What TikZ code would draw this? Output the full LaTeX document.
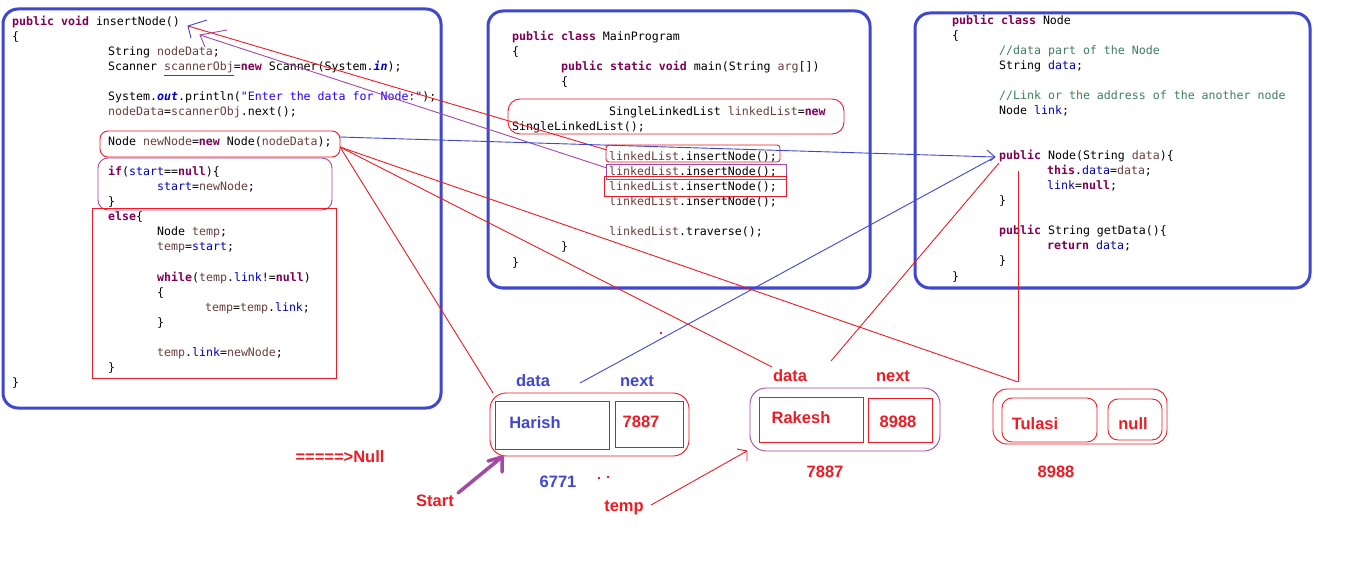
\documentclass[tikz,border=0pt]{standalone}
\usepackage{fontspec}
\setmainfont{Liberation Sans}
\setsansfont{Liberation Sans}
\setmonofont{DejaVu Sans Mono}
\definecolor{pblue}{HTML}{3F48CC}
\definecolor{pred}{HTML}{ED1C24}
\definecolor{ppurple}{HTML}{A349A4}
\definecolor{jkwc}{HTML}{7F0055}
\definecolor{jfldc}{HTML}{0000C0}
\definecolor{jlocc}{HTML}{6A3E3E}
\definecolor{jstrc}{HTML}{2A00FF}
\definecolor{jcomc}{HTML}{3F7F5F}
\newcommand{\jkw}[1]{\textcolor{jkwc}{\bfseries #1}}
\newcommand{\jfld}[1]{\textcolor{jfldc}{#1}}
\newcommand{\jsfld}[1]{\textcolor{jfldc}{\bfseries\itshape #1}}
\newcommand{\jloc}[1]{\textcolor{jlocc}{#1}}
\newcommand{\jstr}[1]{\textcolor{jstrc}{#1}}
\newcommand{\jcom}[1]{\textcolor{jcomc}{#1}}
\newcommand{\codefont}{\ttfamily\fontsize{11.6pt}{14pt}\selectfont}
\newcommand{\lblfont}{\sffamily\bfseries\fontsize{16.5pt}{18pt}\selectfont}
\begin{document}
\begin{tikzpicture}[x=1pt,y=-1pt,
  codeln/.style={anchor=base west,inner sep=0pt,font=\codefont,text=black},
  lbl/.style={anchor=base,inner sep=0pt,font=\lblfont},
  panel/.style={draw=pblue,line width=3pt,rounded corners=15pt},
  redln/.style={draw=pred,line width=0.9pt},
  blueln/.style={draw=pblue,line width=0.9pt},
  purln/.style={draw=ppurple,line width=0.9pt},
  cell/.style={inner sep=0pt,line width=0.9pt}]
\useasboundingbox[fill=white] (0,0) rectangle (1346,561);

% ---------- panels ----------
\draw[panel] (3,9) rectangle (441,408);
\draw[panel] (488,11) rectangle (870,288);
\draw[panel] (915,13) rectangle (1310,288);

% ---------- left panel code ----------
\node[codeln] (L0) at (12,26) {\jkw{public} \jkw{void} insertNode()};
\node[codeln] (L1) at (12,41) {\{};
\node[codeln] (L2) at (108,56) {String \jloc{nodeData};};
\node[codeln] (L3) at (108,71) {Scanner \jloc{\underline{scannerObj}}=\jkw{new} Scanner(System.\jsfld{in});};
\node[codeln] (L5) at (108,101) {System.\jsfld{out}.println(\jstr{"Enter the data for Node:"});};
\node[codeln] (L6) at (108,116) {\jloc{nodeData}=\jloc{scannerObj}.next();};
\node[codeln] (L8) at (108,146) {Node \jloc{newNode}=\jkw{new} Node(\jloc{nodeData});};
\node[codeln] (L10) at (108,176) {\jkw{if}(\jfld{start}==\jkw{null})\{};
\node[codeln] (L11) at (157,191) {\jfld{start}=\jloc{newNode};};
\node[codeln] (L12) at (108,206) {\}};
\node[codeln] (L13) at (108,221) {\jkw{else}\{};
\node[codeln] (L14) at (157,236) {Node \jloc{temp};};
\node[codeln] (L15) at (157,251) {\jloc{temp}=\jfld{start};};
\node[codeln] (L17) at (157,281) {\jkw{while}(\jloc{temp}.\jfld{link}!=\jkw{null})};
\node[codeln] (L18) at (157,296) {\{};
\node[codeln] (L19) at (205,311) {\jloc{temp}=\jloc{temp}.\jfld{link};};
\node[codeln] (L20) at (157,326) {\}};
\node[codeln] (L22) at (157,356) {\jloc{temp}.\jfld{link}=\jloc{newNode};};
\node[codeln] (L23) at (108,371) {\}};
\node[codeln] (L24) at (12,386) {\}};

% ---------- middle panel code ----------
\node[codeln] (M0) at (512,41) {\jkw{public} \jkw{class} MainProgram};
\node[codeln] (M1) at (512,56) {\{};
\node[codeln] (M2) at (561,71) {\jkw{public} \jkw{static} \jkw{void} main(String \jloc{arg}[])};
\node[codeln] (M3) at (561,86) {\{};
\node[codeln] (M4) at (609,116) {SingleLinkedList \jloc{linkedList}=\jkw{new}};
\node[codeln] (M5) at (512,131) {SingleLinkedList();};
\node[codeln] (M6) at (609,161) {\jloc{linkedList}.insertNode();};
\node[codeln] (M7) at (609,176) {\jloc{linkedList}.insertNode();};
\node[codeln] (M8) at (609,191) {\jloc{linkedList}.insertNode();};
\node[codeln] (M9) at (609,206) {\jloc{linkedList}.insertNode();};
\node[codeln] (M10) at (609,236) {\jloc{linkedList}.traverse();};
\node[codeln] (M11) at (561,251) {\}};
\node[codeln] (M12) at (512,266) {\}};

% ---------- right panel code ----------
\node[codeln] (R0) at (952,25) {\jkw{public} \jkw{class} Node};
\node[codeln] (R1) at (952,40) {\{};
\node[codeln] (R2) at (999,55) {\jcom{//data part of the Node}};
\node[codeln] (R3) at (999,70) {String \jfld{data};};
\node[codeln] (R5) at (999,100) {\jcom{//Link or the address of the another node}};
\node[codeln] (R6) at (999,115) {Node \jfld{link};};
\node[codeln] (R9) at (999,160) {\jkw{public} Node(String \jloc{data})\{};
\node[codeln] (R10) at (1047,175) {\jkw{this}.\jfld{data}=\jloc{data};};
\node[codeln] (R11) at (1047,190) {\jfld{link}=\jkw{null};};
\node[codeln] (R12) at (999,205) {\}};
\node[codeln] (R14) at (999,235) {\jkw{public} String getData()\{};
\node[codeln] (R15) at (1047,250) {\jkw{return} \jfld{data};};
\node[codeln] (R16) at (999,265) {\}};
\node[codeln] (R17) at (952,280) {\}};

% ---------- highlight boxes ----------
\draw[redln,rounded corners=8pt] (100,131) rectangle (340,157);
\draw[purln,rounded corners=10pt] (98,158) rectangle (332,210);
\draw[redln] (92,208) rectangle (336,378);
\draw[redln,rounded corners=12pt] (508,99) rectangle (844,134);
\draw[redln,rounded corners=3pt] (606,145) rectangle (780,162);
\draw[purln] (606,164) rectangle (786,179);
\draw[redln] (604,176) rectangle (786,196);

% ---------- list boxes ----------
\node[cell,draw=pred,minimum width=199pt,minimum height=63pt,rounded corners=16pt] (hOut) at (589.5,424.5) {};
\node[cell,draw=pblue,minimum width=114pt,minimum height=48pt] (hIn1) at (552,425) {};
\node[cell,draw=pblue,minimum width=68pt,minimum height=46pt] (hIn2) at (649,424) {};
\node[cell,draw=ppurple,minimum width=190pt,minimum height=63pt,rounded corners=16pt] (rOut) at (845,419.5) {};
\node[cell,draw=pred,minimum width=104pt,minimum height=45pt] (rIn1) at (811,419.5) {};
\node[cell,draw=pred,minimum width=64pt,minimum height=44pt] (rIn2) at (900,420) {};
\node[cell,draw=pred,minimum width=174pt,minimum height=55pt,rounded corners=14pt] (tOut) at (1080,416.5) {};
\node[cell,draw=pred,minimum width=95pt,minimum height=44pt,rounded corners=10pt] (tIn1) at (1049.5,420) {};
\node[cell,draw=pred,minimum width=54pt,minimum height=41pt,rounded corners=10pt] (tIn2) at (1135,419.5) {};

% ---------- labels ----------
\node[lbl,text=pblue] (hdata) at (533,386) {data};
\node[lbl,text=pblue] (hnext) at (637,386) {next};
\node[lbl,text=pblue] (hval) at (535,428) {Harish};
\node[lbl,text=pred] (hptr) at (641,427) {7887};
\node[lbl,text=pblue] (haddr) at (558,487) {6771};
\node[lbl,text=pred] (rdata) at (790,381) {data};
\node[lbl,text=pred] (rnext) at (893,381) {next};
\node[lbl,text=pred] (rval) at (801,423) {Rakesh};
\node[lbl,text=pred] (rptr) at (898,427) {8988};
\node[lbl,text=pred] (raddr) at (825,477) {7887};
\node[lbl,text=pred] (tval) at (1035,429) {Tulasi};
\node[lbl,text=pred] (tptr) at (1133,429) {null};
\node[lbl,text=pred] (taddr) at (1056,477) {8988};
\node[lbl,text=pred] (tmp) at (624,511) {temp};
\node[lbl,text=pred] (startlbl) at (435,506) {Start};
\node[lbl,text=pred] (nullarrow) at (340,462) {=====>Null};

% ---------- connector points ----------
\coordinate (insTip) at (188,26);
\coordinate (ins1L) at (607,150);
\coordinate (purTip) at (200,35);
\coordinate (ins2L) at (607,168);
\coordinate (nnBlue) at (340,137);
\coordinate (nnRed) at (340,147);
\coordinate (ctorTip) at (995,157);
\coordinate (hDataPt) at (580,383);
\coordinate (hTopPt) at (493,393);
\coordinate (rDataPt) at (772,367);
\coordinate (tTopPt) at (1018,382);
\coordinate (ctorBot) at (1018,171);
\coordinate (ctorL) at (999,163);
\coordinate (rUpPt) at (831,361);
\coordinate (tempFrom) at (651,505);
\coordinate (tempTip) at (747,451);
\coordinate (startFrom) at (458,493);
\coordinate (startTip) at (502,457);

% ---------- connectors ----------
\draw[redln] (ins1L) -- (insTip);
\draw[blueln] (insTip) ++(19,-6) -- (insTip) -- ++(3,12);
\draw[purln] (ins2L) -- (purTip);
\draw[purln] (purTip) ++(27,-5) -- (purTip) -- ++(5,12);
\draw[blueln] (nnBlue) -- (ctorTip);
\draw[blueln] (hDataPt) -- (ctorTip);
\draw[blueln] (ctorTip) ++(-8,-7) -- (ctorTip) -- ++(-5,4);
\draw[redln] (nnRed) -- (hTopPt);
\draw[redln] (nnRed) -- (rDataPt);
\draw[redln] (nnRed) -- (tTopPt);
\draw[redln] (ctorBot) -- (tTopPt);
\draw[redln] (ctorL) -- (rUpPt);
\draw[redln] (tempFrom) -- (tempTip);
\draw[redln] (tempTip) ++(-10,-2) -- (tempTip) -- ++(0,10);
\draw[draw=ppurple,line width=3.5pt,line cap=round,line join=round] (startFrom) -- (startTip);
\draw[draw=ppurple,line width=3.5pt,line cap=round,line join=round] (startTip) ++(-14,4) -- (startTip) -- ++(0,15);

% ---------- stray dots ----------
\fill[pred] (660,332) rectangle ++(2,2);
\fill[pred] (598,477) rectangle ++(2,1.5);
\fill[pred] (607,476) rectangle ++(1.5,1.5);
\end{tikzpicture}
\end{document}
